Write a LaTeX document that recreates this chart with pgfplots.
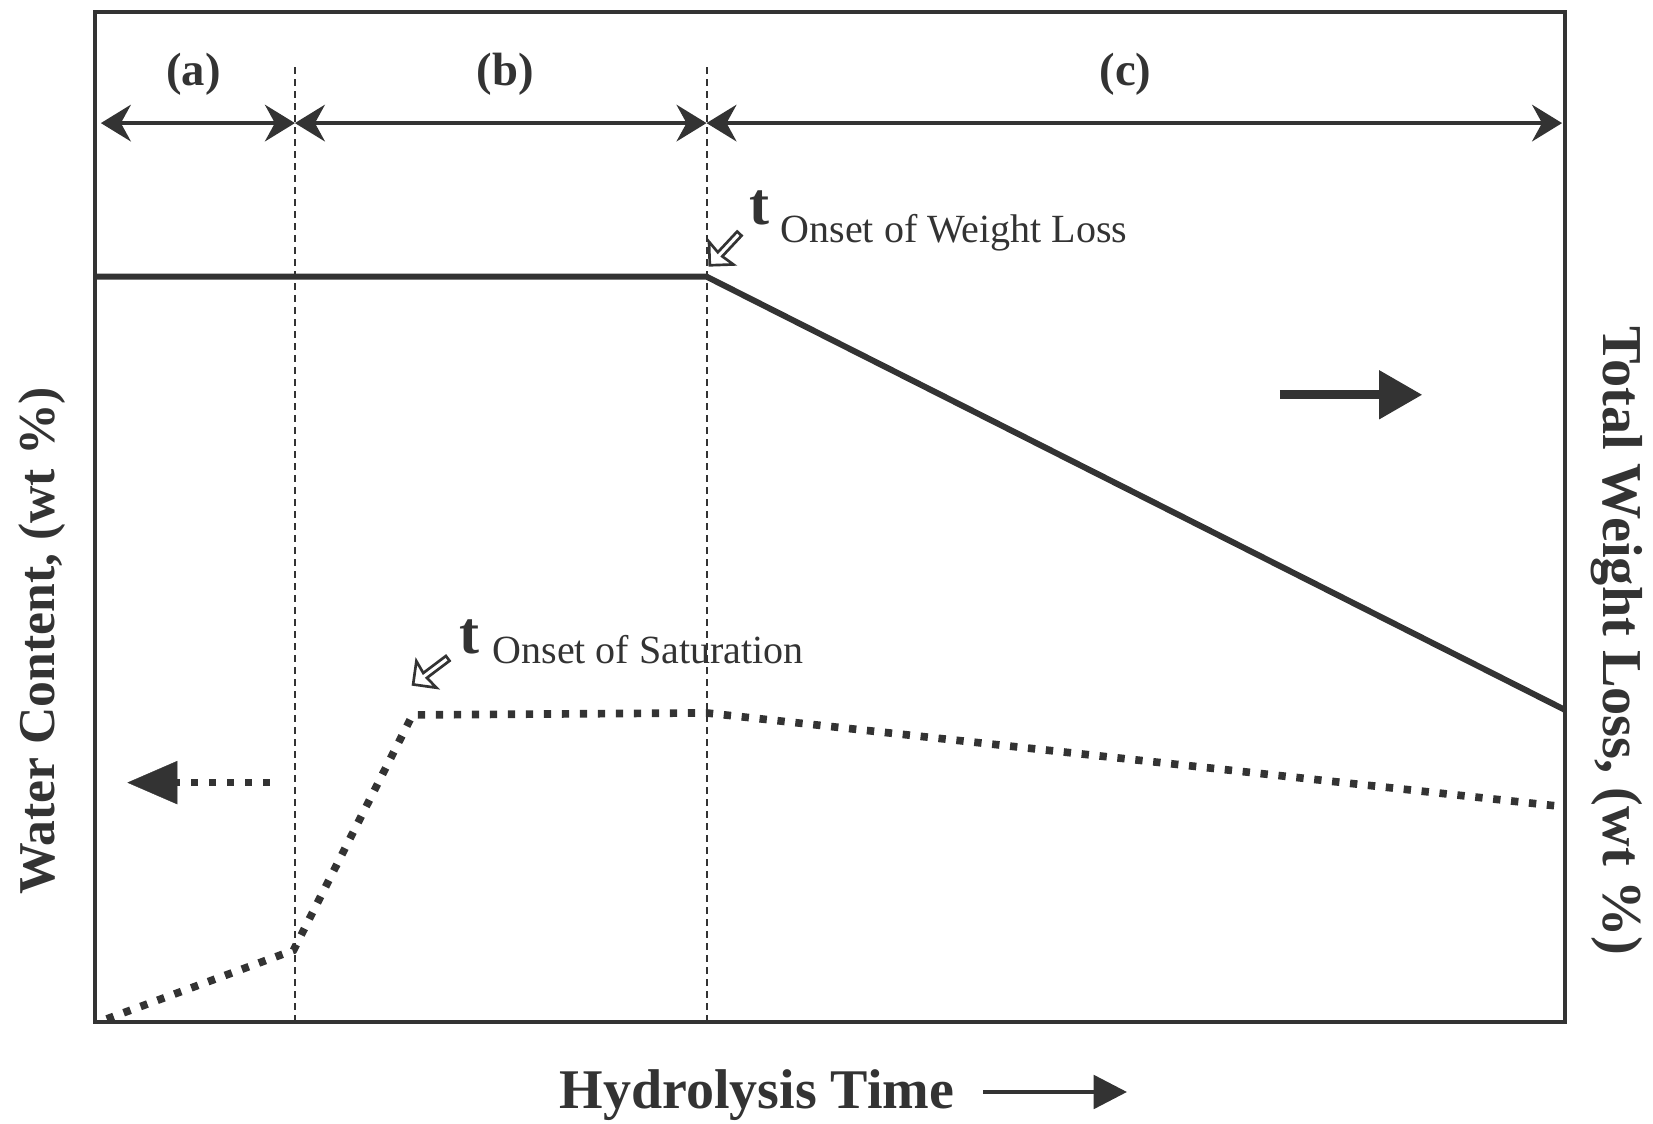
\documentclass[border=0pt]{standalone}
\usepackage{fontspec}
\setmainfont{Liberation Serif}
\usepackage{pgfplots}
\pgfplotsset{compat=1.18}
\usetikzlibrary{arrows.meta,shapes.arrows}

\definecolor{ink}{HTML}{333333}

\begin{document}
\begin{tikzpicture}[
  lbl/.style={text=ink, inner sep=0pt},
  hollow/.style={draw=ink, fill=white, line width=0.8pt, single arrow,
    minimum height=13pt, minimum width=10pt, single arrow head extend=1.8pt,
    single arrow head indent=0.5pt, inner sep=0pt},
]
\begin{axis}[
  scale only axis,
  width=441pt, height=303pt,
  xmin=0, xmax=100, ymin=0, ymax=100,
  xtick=\empty, ytick=\empty,
  axis line style={draw=ink, line width=1.2pt},
  clip=false,
]
% total weight loss (right axis, solid)
\addplot[ink, line width=1.8pt] coordinates {(0,73.8)(41.6,73.8)(100,30.9)};
% water content (left axis, dotted)
\addplot[ink, line width=2.3pt, dash pattern=on 2.2pt off 3.2pt]
  coordinates {(0.8,0.3)(13.5,7.1)(21.6,30.4)(41.6,30.6)(100,21.3)};

% stage boundaries
\draw[ink, line width=0.6pt, dash pattern=on 2pt off 1.6pt] (axis cs:13.6,0) -- (axis cs:13.6,95);
\draw[ink, line width=0.6pt, dash pattern=on 2pt off 1.6pt] (axis cs:41.6,0) -- (axis cs:41.6,95);

% stage arrows
\draw[ink, line width=1pt, {Stealth[length=9pt,width=11pt,inset=3pt]}-{Stealth[length=9pt,width=11pt,inset=3pt]}]
  (axis cs:0.4,89) -- (axis cs:13.6,89);
\draw[ink, line width=1pt, {Stealth[length=9pt,width=11pt,inset=3pt]}-{Stealth[length=9pt,width=11pt,inset=3pt]}]
  (axis cs:13.6,89) -- (axis cs:41.6,89);
\draw[ink, line width=1pt, {Stealth[length=9pt,width=11pt,inset=3pt]}-{Stealth[length=9pt,width=11pt,inset=3pt]}]
  (axis cs:41.6,89) -- (axis cs:99.8,89);

\node[lbl, font=\fontsize{14pt}{16pt}\selectfont\bfseries] at (axis cs:6.7,93.8) {(a)};
\node[lbl, font=\fontsize{14pt}{16pt}\selectfont\bfseries] at (axis cs:27.9,93.8) {(b)};
\node[lbl, font=\fontsize{14pt}{16pt}\selectfont\bfseries] at (axis cs:70.1,93.8) {(c)};

% onset annotations
\node[lbl, font=\fontsize{18pt}{20pt}\selectfont\bfseries] at (axis cs:45.2,80.6) {t};
\node[lbl, anchor=base west, font=\fontsize{12pt}{14pt}\selectfont] at (axis cs:46.6,77.2) {Onset of Weight Loss};
\node[hollow, rotate=227] at (axis cs:42.9,76.6) {};

\node[lbl, font=\fontsize{18pt}{20pt}\selectfont\bfseries] at (axis cs:25.5,38.1) {t};
\node[lbl, anchor=base west, font=\fontsize{12pt}{14pt}\selectfont] at (axis cs:27.0,35.5) {Onset of Saturation};
\node[hollow, rotate=217] at (axis cs:22.9,34.8) {};

% axis indicator arrows
\draw[ink, line width=2pt, dash pattern=on 2pt off 3.4pt] (axis cs:11.9,23.7) -- (axis cs:5.5,23.7);
\draw[ink, line width=0.1pt, fill=ink, -{Triangle[length=15pt,width=13pt]}] (axis cs:5.6,23.7) -- (axis cs:2.2,23.7);
\draw[ink, line width=2.8pt, -{Triangle[length=13pt,width=14pt]}] (axis cs:80.6,62.1) -- (axis cs:90.3,62.1);
\end{axis}

% labels
\node[lbl, rotate=90, font=\fontsize{15.5pt}{18pt}\selectfont\bfseries] at (-16.0pt,114.3pt) {Water Content, (wt \%)};
\node[lbl, rotate=-90, font=\fontsize{16.9pt}{19pt}\selectfont\bfseries] at (456.5pt,114.3pt) {Total Weight Loss, (wt \%)};
\node[lbl, font=\fontsize{16.8pt}{19pt}\selectfont\bfseries] at (198.6pt,-21.9pt) {Hydrolysis Time};
\draw[ink, line width=1.3pt, -{Triangle[length=10pt,width=10pt]}] (266.4pt,-21.0pt) -- (309.6pt,-21.0pt);

\pgfresetboundingbox
\path (-28.5pt,-30.6pt) rectangle (467.4pt,306.6pt);
\end{tikzpicture}
\end{document}
